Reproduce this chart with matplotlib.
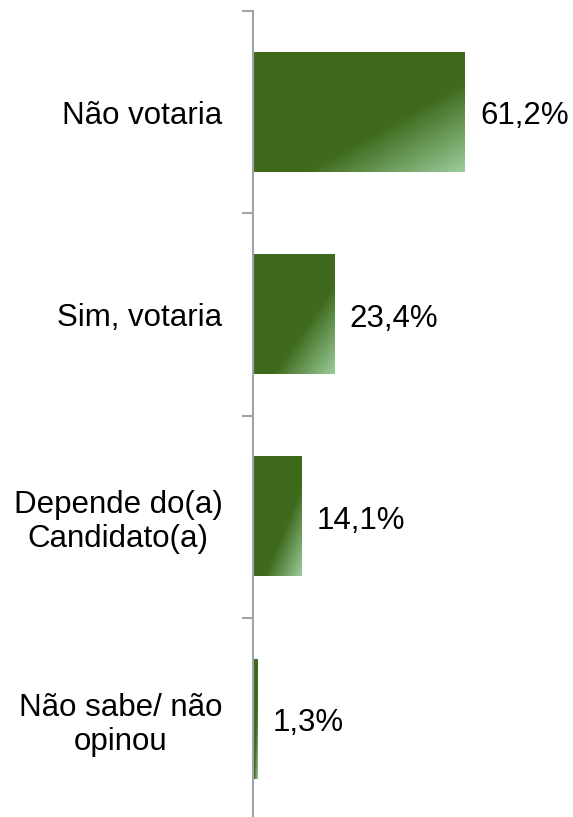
import numpy as np
import matplotlib
matplotlib.use('Agg')
from matplotlib import pyplot as plt

categories = ['Não votaria', 'Sim, votaria', 'Depende do(a)\nCandidato(a)',
              'Não sabe/ não\nopinou']
values = [61.2, 23.4, 14.1, 1.3]
value_labels = ['61,2%', '23,4%', '14,1%', '1,3%']

plt.rcParams['font.family'] = ['Liberation Sans', 'DejaVu Sans']

fig = plt.figure(figsize=(5.73, 8.17), dpi=100)
ax = fig.add_axes([253 / 573, -0.004, 320 / 573, 0.9905])

dark = np.array([63, 106, 29]) / 255
light = np.array([155, 205, 155]) / 255

# diagonal gradient: solid dark up to u+v ~ 1.25, lighter toward bottom-right
u, v = np.meshgrid(np.linspace(0, 1, 200), np.linspace(0, 1, 100))
t = np.clip((u + v - 1.25) / 0.75, 0, 1)
grad = np.dstack([dark[i] + (light[i] - dark[i]) * t for i in range(3)])

h = 0.59
ypos = np.arange(len(categories))
for y, val, lab in zip(ypos, values, value_labels):
    ax.imshow(grad, extent=[0, val, y + h / 2, y - h / 2], aspect='auto',
              interpolation='bilinear', zorder=2)
    ax.annotate(lab, (val, y), xytext=(11, -3), textcoords='offset points',
                va='center', ha='left', fontsize=22.5)

ax.set_xlim(0, 92.4)
ax.set_ylim(3.5, -0.5)

for side in ['top', 'right', 'bottom']:
    ax.spines[side].set_visible(False)
ax.spines['left'].set_color('#A0A4AA')
ax.spines['left'].set_linewidth(1.5)
ax.spines['left'].set_zorder(3)

ax.set_xticks([])
ax.set_yticks(ypos)
ax.set_yticklabels(categories, fontsize=22.5, multialignment='center',
                   linespacing=1.18)
ax.tick_params(axis='y', which='major', length=0, pad=22)
ax.set_yticks(np.arange(-0.5, 4, 1), minor=True)
ax.tick_params(axis='y', which='minor', length=8, width=1.5,
               color='#A0A4AA')

fig.savefig('out.png', dpi=100)
